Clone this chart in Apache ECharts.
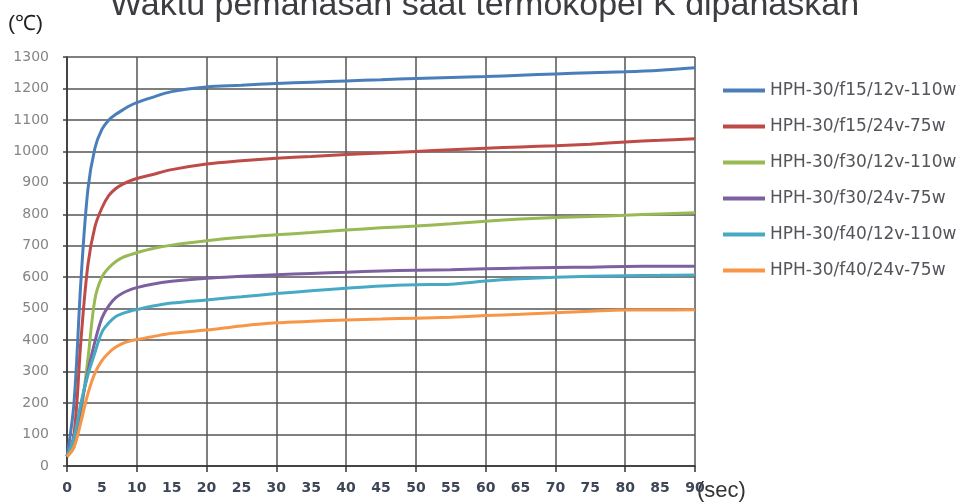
<!DOCTYPE html>
<html>
<head>
<meta charset="utf-8">
<script src="https://cdn.jsdelivr.net/npm/echarts@6/dist/echarts.min.js"></script>
<style>
html, body { margin: 0; padding: 0; background: #fff; }
#chart { width: 961px; height: 503px; }
</style>
</head>
<body>
<div id="chart"></div>
<script>
// waktu (detik)
var times = [0, 1, 2, 3, 4, 5, 6, 7, 8, 9, 10, 12, 15, 20, 25, 30, 35, 40, 45, 50, 55, 60, 65, 70, 75, 80, 85, 90];
// label sumbu x tiap 5 detik
var xLabels = [0, 5, 10, 15, 20, 25, 30, 35, 40, 45, 50, 55, 60, 65, 70, 75, 80, 85, 90];

var seriesNames = ['HPH-30/f15/12v-110w', 'HPH-30/f15/24v-75w', 'HPH-30/f30/12v-110w',
	'HPH-30/f30/24v-75w', 'HPH-30/f40/12v-110w', 'HPH-30/f40/24v-75w'];

var f15_12v = [30, 200, 590, 880, 1010, 1070, 1100, 1118, 1132, 1145, 1155, 1170, 1190, 1205, 1210, 1216, 1220, 1224, 1228, 1232, 1235, 1238, 1242, 1246, 1250, 1253, 1258, 1266];
var f15_24v = [30, 100, 400, 640, 760, 820, 860, 882, 896, 906, 914, 925, 942, 960, 970, 978, 984, 990, 995, 1000, 1005, 1010, 1014, 1018, 1023, 1030, 1035, 1040];
var f30_12v = [30, 60, 170, 340, 530, 600, 630, 650, 663, 671, 678, 690, 702, 716, 727, 735, 742, 750, 757, 763, 770, 778, 785, 790, 793, 797, 801, 805];
var f30_24v = [30, 80, 190, 300, 395, 470, 510, 535, 550, 560, 567, 577, 587, 597, 603, 608, 612, 616, 620, 622, 624, 627, 629, 631, 632, 634, 635, 635];
var f40_12v = [30, 90, 200, 290, 360, 425, 455, 475, 485, 492, 497, 507, 518, 528, 538, 548, 557, 565, 572, 576, 578, 588, 595, 600, 603, 605, 606, 607];
var f40_24v = [30, 60, 140, 230, 295, 335, 360, 378, 390, 397, 402, 410, 422, 432, 445, 455, 460, 464, 467, 470, 473, 478, 482, 487, 492, 496, 496, 497];

var colors = ['#4a7ebb', '#be4b48', '#98b954', '#7d60a0', '#46aac5', '#f79646'];
var allData = [f15_12v, f15_24v, f30_12v, f30_24v, f40_12v, f40_24v];

var myChart = echarts.init(document.getElementById('chart'));

var series = [];
for (var i = 0; i < allData.length; i++) {
	var pts = [];
	for (var j = 0; j < times.length; j++) {
		pts.push([times[j], allData[i][j]]);
	}
	series.push({
		name: seriesNames[i],
		type: 'line',
		data: pts,
		smooth: 0.35,
		showSymbol: false,
		lineStyle: { width: 3, color: colors[i] }
	});
}

var option = {
	animation: false,
	color: colors,
	title: {
		text: 'Waktu pemanasan saat termokopel K dipanaskan',
		left: 110,
		top: -11,
		padding: 0,
		textStyle: {
			fontFamily: 'Liberation Sans',
			fontSize: 34,
			fontWeight: 'normal'
		}
	},
	legend: {
		orient: 'vertical',
		left: 718,
		top: 77,
		itemWidth: 42,
		itemHeight: 4,
		itemGap: 19,
		icon: 'rect',
		data: seriesNames,
		textStyle: {
			fontFamily: 'DejaVu Sans',
			fontSize: 17
		}
	},
	grid: { left: 67, right: 266, top: 57, bottom: 37 },
	xAxis: {
		type: 'value',
		min: 0,
		max: 90,
		interval: 10,
		axisLine: { show: true, lineStyle: { color: '#333', width: 1.5 } },
		axisTick: { show: true, length: 6, lineStyle: { color: '#333', width: 1.5 } },
		splitLine: { show: true, lineStyle: { color: '#555', width: 1.5 } },
		axisLabel: {
			customValues: xLabels,
			margin: 15,
			fontFamily: 'DejaVu Sans',
			fontSize: 14,
			fontWeight: 'bold',
			color: '#3d4656'
		}
	},
	yAxis: {
		type: 'value',
		min: 0,
		max: 1300,
		interval: 100,
		axisLine: { show: true, lineStyle: { color: '#333', width: 1.5 } },
		axisTick: { show: true, length: 4, lineStyle: { color: '#444', width: 1.5 } },
		splitLine: { show: true, lineStyle: { color: '#555', width: 1.5 } },
		axisLabel: {
			margin: 18,
			fontFamily: 'DejaVu Sans',
			fontSize: 14,
			color: '#858585',
			formatter: function (v) { return String(v); }
		}
	},
	graphic: [
		{ type: 'text', x: 8, y: 24, style: { text: '(℃)', fontSize: 21, fill: '#222', verticalAlign: 'middle' } },
		{ type: 'text', x: 697, y: 491, style: { text: '(sec)', fontSize: 22, fill: '#333', verticalAlign: 'middle' } }
	],
	series: series
};

myChart.setOption(option);
</script>
</body>
</html>
